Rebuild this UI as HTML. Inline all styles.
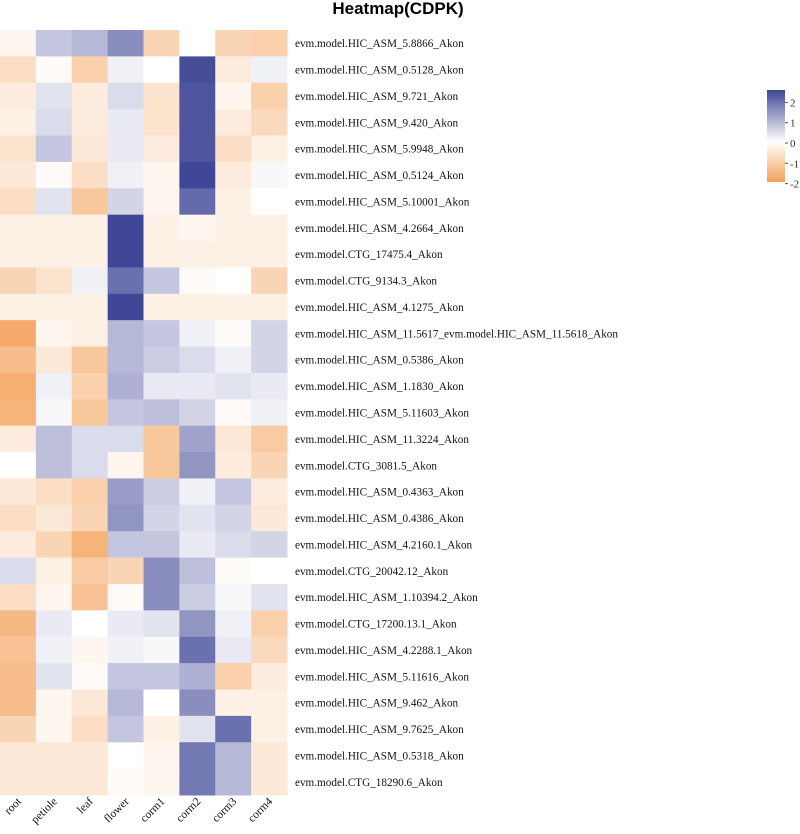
<!DOCTYPE html>
<html><head><meta charset="utf-8"><style>
body{margin:0;background:#fff;}
svg text{font-family:"Liberation Serif",serif;}
</style></head><body>
<svg id="chart" width="800" height="829" xmlns="http://www.w3.org/2000/svg">
<text x="398" y="14" text-anchor="middle" style="font-family:'Liberation Sans',sans-serif;font-weight:bold;font-size:17px">Heatmap(CDPK)</text>
<defs><linearGradient id="lg" x1="0" y1="0" x2="0" y2="1">
<stop offset="0" stop-color="#3F4796"/><stop offset="0.56" stop-color="#FFFFFF"/><stop offset="1" stop-color="#F4A15A"/></linearGradient></defs>
<g>
<rect x="767" y="90" width="18" height="92" fill="url(#lg)"/>
</g>
<g id="cells"></g>
<g id="rowlabels"></g>
<g id="collabels"></g>
<g id="legticks"></g>
</svg>
<script>
const columns = ["root","petiole","leaf","flower","corm1","corm2","corm3","corm4"];
const genes = ["evm.model.HIC_ASM_5.8866_Akon","evm.model.HIC_ASM_0.5128_Akon","evm.model.HIC_ASM_9.721_Akon","evm.model.HIC_ASM_9.420_Akon","evm.model.HIC_ASM_5.9948_Akon","evm.model.HIC_ASM_0.5124_Akon","evm.model.HIC_ASM_5.10001_Akon","evm.model.HIC_ASM_4.2664_Akon","evm.model.CTG_17475.4_Akon","evm.model.CTG_9134.3_Akon","evm.model.HIC_ASM_4.1275_Akon","evm.model.HIC_ASM_11.5617_evm.model.HIC_ASM_11.5618_Akon","evm.model.HIC_ASM_0.5386_Akon","evm.model.HIC_ASM_1.1830_Akon","evm.model.HIC_ASM_5.11603_Akon","evm.model.HIC_ASM_11.3224_Akon","evm.model.CTG_3081.5_Akon","evm.model.HIC_ASM_0.4363_Akon","evm.model.HIC_ASM_0.4386_Akon","evm.model.HIC_ASM_4.2160.1_Akon","evm.model.CTG_20042.12_Akon","evm.model.HIC_ASM_1.10394.2_Akon","evm.model.CTG_17200.13.1_Akon","evm.model.HIC_ASM_4.2288.1_Akon","evm.model.HIC_ASM_5.11616_Akon","evm.model.HIC_ASM_9.462_Akon","evm.model.HIC_ASM_9.7625_Akon","evm.model.HIC_ASM_0.5318_Akon","evm.model.CTG_18290.6_Akon"];
const values = [
[-0.2,0.8,1.0,1.6,-0.9,0,-0.9,-1.0],
[-0.7,-0.1,-1.0,0.2,0,2.5,-0.4,0.2],
[-0.4,0.4,-0.4,0.5,-0.6,2.4,-0.2,-1.0],
[-0.3,0.5,-0.4,0.3,-0.6,2.4,-0.4,-0.8],
[-0.6,0.8,-0.5,0.3,-0.4,2.4,-0.7,-0.3],
[-0.5,-0.1,-0.7,0.2,-0.2,2.6,-0.4,0.1],
[-0.7,0.4,-1.2,0.6,-0.2,2.1,-0.3,0],
[-0.3,-0.3,-0.3,2.6,-0.3,-0.2,-0.3,-0.3],
[-0.3,-0.3,-0.3,2.6,-0.3,-0.3,-0.3,-0.3],
[-0.9,-0.6,0.2,2.0,0.8,-0.1,0,-0.9],
[-0.3,-0.3,-0.3,2.6,-0.3,-0.3,-0.3,-0.3],
[-1.8,-0.2,-0.3,1.0,0.8,0.2,-0.1,0.6],
[-1.4,-0.5,-1.2,1.0,0.7,0.5,0.2,0.6],
[-1.7,0.2,-1.0,1.1,0.3,0.3,0.4,0.3],
[-1.6,0.1,-1.2,0.8,0.9,0.6,-0.1,0.2],
[-0.4,0.9,0.5,0.5,-1.2,1.3,-0.5,-1.1],
[0,0.9,0.5,-0.2,-1.2,1.5,-0.4,-0.9],
[-0.5,-0.7,-1.0,1.4,0.7,0.2,0.8,-0.4],
[-0.7,-0.5,-0.9,1.5,0.6,0.4,0.6,-0.5],
[-0.4,-0.9,-1.6,0.8,0.8,0.3,0.5,0.6],
[0.5,-0.3,-1.1,-0.9,1.6,0.9,-0.1,0],
[-0.7,-0.2,-1.3,-0.1,1.6,0.7,0.1,0.4],
[-1.5,0.3,0,0.3,0.4,1.5,0.2,-1.0],
[-1.3,0.2,-0.2,0.2,0.1,2.0,0.3,-0.8],
[-1.4,0.4,-0.1,0.8,0.8,1.1,-1.0,-0.4],
[-1.4,-0.2,-0.5,1.0,0,1.6,-0.3,-0.3],
[-0.9,-0.2,-0.7,0.8,-0.3,0.4,2.0,-0.3],
[-0.5,-0.5,-0.5,0,-0.2,1.9,1.0,-0.5],
[-0.5,-0.5,-0.5,-0.1,-0.2,1.9,1.0,-0.5]
];
const legendTicks = [2,1,0,-1,-2];

const NS="http://www.w3.org/2000/svg";
const X0=0, X1=287, Y0=30, Y1=795;
const cw=(X1-X0)/columns.length, rh=(Y1-Y0)/genes.length;
const xPos=i=>X0+i*cw, yPos=j=>Y0+j*rh;
const legY=v=>143-v*20.3;
function mix(a,b,t){return a.map((c,i)=>Math.round(c+(b[i]-c)*t));}
function color(v){
  const lo=[244,161,90], mid=[255,255,255], hi=[63,71,150];
  let c = v>=0 ? mix(mid,hi,Math.min(v/2.6,1)) : mix(mid,lo,Math.min(-v/2,1));
  return `rgb(${c[0]},${c[1]},${c[2]})`;
}
const cells=document.getElementById('cells');
values.forEach((row,j)=>row.forEach((v,i)=>{
  const r=document.createElementNS(NS,'rect');
  r.setAttribute('x',xPos(i));r.setAttribute('y',yPos(j));
  r.setAttribute('width',cw+0.5);r.setAttribute('height',rh+0.5);
  r.setAttribute('fill',color(v));
  
  
  cells.appendChild(r);
}));
const rl=document.getElementById('rowlabels');
genes.forEach((g,j)=>{
  const t=document.createElementNS(NS,'text');
  t.setAttribute('x',295);t.setAttribute('y',yPos(j)+rh/2+4);
  t.setAttribute('font-size','11.2');t.setAttribute('fill','#111');
  t.textContent=g;
  
  
  rl.appendChild(t);
});
const cl=document.getElementById('collabels');
columns.forEach((c,i)=>{
  const t=document.createElementNS(NS,'text');
  const x=xPos(i)+cw/2+4, y=802;
  t.setAttribute('x',x);t.setAttribute('y',y);
  t.setAttribute('text-anchor','end');t.setAttribute('font-size','11.5');t.setAttribute('fill','#111');
  t.setAttribute('transform',`rotate(-45 ${x} ${y})`);
  t.textContent=c;
  
  
  cl.appendChild(t);
});
const lt=document.getElementById('legticks');
legendTicks.forEach(v=>{
  const y=legY(v);
  const l=document.createElementNS(NS,'line');
  l.setAttribute('x1',785);l.setAttribute('x2',788);l.setAttribute('y1',y);l.setAttribute('y2',y);
  l.setAttribute('stroke','#555');
  
  
  lt.appendChild(l);
  const t=document.createElementNS(NS,'text');
  t.setAttribute('x',790);t.setAttribute('y',y+4);t.setAttribute('font-size','11');t.setAttribute('fill','#333');
  t.textContent=String(v);
  
  
  lt.appendChild(t);
});
</script>
</body></html>
